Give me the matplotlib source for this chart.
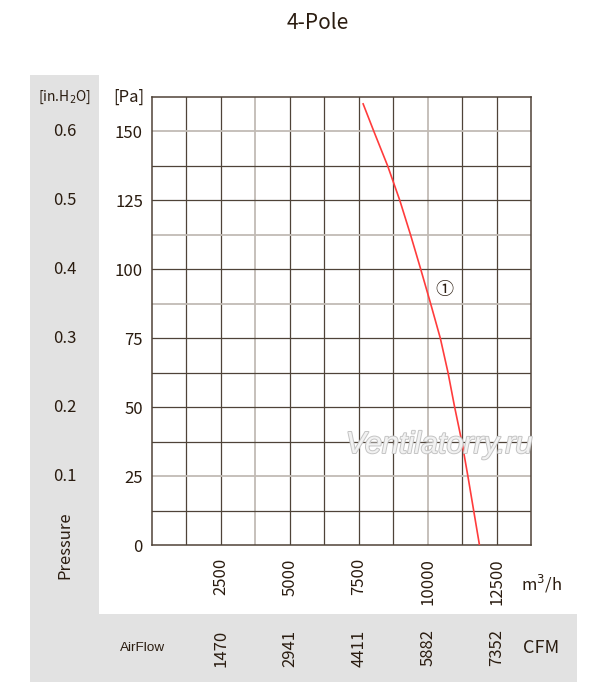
import matplotlib
matplotlib.use("Agg")
import matplotlib.pyplot as plt
from matplotlib.patches import Rectangle
from matplotlib.transforms import blended_transform_factory as btf
import matplotlib.patheffects as pe

# ---- data ----
flow_m3h = [7660, 8050, 8550, 8990, 9380, 9750, 10110, 10460, 10740, 10980,
            11240, 11460, 11670, 11880]
pressure_pa = [160, 150, 137.5, 125, 112.5, 100, 87.5, 75, 62.5, 50,
               37.5, 25, 12.5, 0]

x_ticks = [2500, 5000, 7500, 10000, 12500]
x_tick_labels = ["2500", "5000", "7500", "10000", "12500"]
cfm_labels = ["1470", "2941", "4411", "5882", "7352"]
y_ticks = [0, 25, 50, 75, 100, 125, 150]
inh2o_labels = ["0.6", "0.5", "0.4", "0.3", "0.2", "0.1"]
inh2o_pos = [150, 125, 100, 75, 50, 25]

W, H = 600, 693
fig = plt.figure(figsize=(W / 100, H / 100), dpi=100)
fig.patch.set_facecolor("white")

TXT = "#2a1c10"
GRID = "#4f4338"
LIGHT = "#c2bbb5"
FONT = ["Noto Sans CJK SC", "DejaVu Sans"]

def fx(px):
    return px / W

def fy(py):
    return 1 - py / H

# gray L-shaped bands
fig.patches.append(Rectangle((fx(30), fy(682)), fx(99) - fx(30), fy(75) - fy(682),
                             transform=fig.transFigure, facecolor="#e2e2e2",
                             edgecolor="none", zorder=0))
fig.patches.append(Rectangle((fx(30), fy(682)), fx(577) - fx(30), fy(614) - fy(682),
                             transform=fig.transFigure, facecolor="#e2e2e2",
                             edgecolor="none", zorder=0))

ax = fig.add_axes([fx(152), fy(545), fx(531) - fx(152), fy(97) - fy(545)])
ax.set_xlim(0, 13750)
ax.set_ylim(0, 162.5)

# grid lines
light_v = {3750, 10000}
light_h = {150, 112.5, 87.5, 25}
for i in range(1, 11):
    v = i * 1250
    ax.axvline(v, color=LIGHT if v in light_v else GRID,
               lw=1.3 if v in light_v else 0.9, zorder=1)
for i in range(1, 13):
    h = i * 12.5
    ax.axhline(h, color=LIGHT if h in light_h else GRID,
               lw=1.3 if h in light_h else 0.9, zorder=1)

for s in ax.spines.values():
    s.set_color(GRID)
    s.set_linewidth(1.1)

ax.plot(flow_m3h, pressure_pa, color="#ff3c3c", lw=1.2, zorder=3)

ax.set_xticks(x_ticks)
ax.set_xticklabels(x_tick_labels, rotation=90, va="top", ha="center",
                   fontsize=12, color=TXT, family=FONT)
ax.set_yticks(y_ticks)
ax.set_yticklabels([str(v) for v in y_ticks], fontsize=12, color=TXT, family=FONT)
ax.tick_params(axis="both", length=0)
ax.tick_params(axis="y", pad=6.5)
ax.tick_params(axis="x", pad=9.5)

# curve label
ax.text(10600, 92.5, "①", fontsize=13, color=TXT, family=FONT,
        ha="center", va="center", zorder=4)

# watermark
fig.text(fx(439), fy(445), "Ventilatorry.ru", fontsize=22, style="italic",
         family="Liberation Sans", color="#f2f2f2", ha="center", va="center",
         zorder=5,
         path_effects=[pe.withStroke(linewidth=1.4, foreground="#c4c4c4")])

# in.H2O labels
tb = btf(fig.transFigure, ax.transData)
for lab, p in zip(inh2o_labels, inh2o_pos):
    fig.text(fx(65), p, lab, transform=tb, fontsize=12, color=TXT,
             family=FONT, ha="center", va="center")

# CFM labels
tx = btf(ax.transData, fig.transFigure)
for lab, v in zip(cfm_labels, x_ticks):
    fig.text(v, fy(648), lab, transform=tx, fontsize=12, color=TXT,
             family=FONT, rotation=90, ha="center", va="center")

# headers / units
fig.text(fx(65), fy(97), "[in.H$_2$O]", fontsize=10, color=TXT, family=FONT,
         ha="center", va="center")
fig.text(fx(129), fy(97), "[Pa]", fontsize=12, color=TXT, family=FONT,
         ha="center", va="center")
fig.text(fx(65), fy(545), "Pressure", fontsize=12, color=TXT, family=FONT,
         rotation=90, ha="center", va="center")
fig.text(fx(541), fy(584), "m$^3$/h", fontsize=12, color=TXT, family=FONT,
         ha="center", va="center")
fig.text(fx(541), fy(648), "CFM", fontsize=13, color=TXT, family=FONT,
         ha="center", va="center")
fig.text(fx(143), fy(648), "AirFlow", fontsize=9.7, color=TXT,
         family="Liberation Sans", ha="center", va="center")
fig.text(fx(318), fy(23), "4-Pole", fontsize=15, color=TXT, family=FONT,
         ha="center", va="center")

fig.savefig("out.png", dpi=100, facecolor="white")
